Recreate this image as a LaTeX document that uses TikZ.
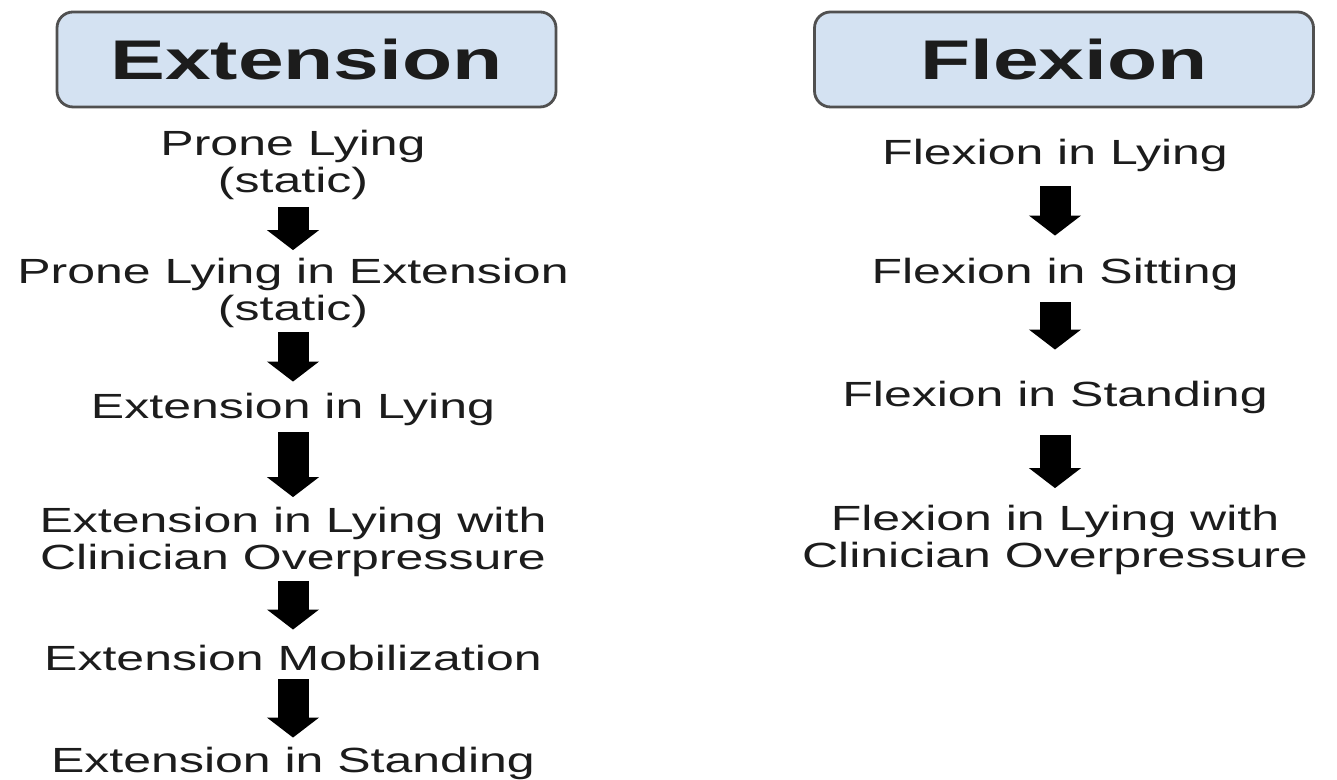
\documentclass[tikz,border=0pt]{standalone}
\usepackage{fontspec}
\setmainfont{Liberation Sans}
\newfontfamily\stagefont[FakeStretch=1.43]{Liberation Sans}
\newfontfamily\headfont[FakeStretch=1.47]{Liberation Sans}
\usetikzlibrary{arrows.meta}

\definecolor{headblue}{RGB}{212,226,242}
\definecolor{headrim}{RGB}{80,80,80}
\definecolor{inkgray}{RGB}{28,28,28}

\tikzset{
    headbox/.style={draw=headrim,line width=1.6pt,fill=headblue,
        rounded corners=0.32cm,minimum width=9.98cm,minimum height=1.9cm,
        text=inkgray,font=\headfont\bfseries\fontsize{31.8}{36}\selectfont},
    stage/.style={align=center,inner sep=1pt,text=inkgray,
        font=\stagefont\fontsize{19.9}{21}\selectfont},
    blockarrow/.style={line width=0.62cm,
        -{Triangle[width=1.02cm,length=0.4cm]},
        shorten <=0.1cm,shorten >=0.1cm}
}

\begin{document}
\begin{tikzpicture}[x=1cm,y=1cm,line cap=butt,line join=miter]
        \useasboundingbox (0,0) rectangle (26.74,15.6);

        \node[headbox] (ext) at (6.13,14.41) {Extension};
        \node[headbox] (flx) at (21.28,14.41) {Flexion};

        % extension column
        \node[stage] (e1) at (5.86,12.30) {Prone Lying\\(static)};
        \node[stage] (e2) at (5.86,9.74) {Prone Lying in Extension\\(static)};
        \node[stage] (e3) at (5.86,7.42) {Extension in Lying};
        \node[stage] (e4) at (5.86,4.76) {Extension in Lying with\\Clinician Overpressure};
        \node[stage] (e5) at (5.86,2.44) {Extension Mobilization};
        \node[stage] (e6) at (5.86,0.34) {Extension in Standing};

        \draw[blockarrow,shorten >=0.12cm] (e1) -- (e2);
        \draw[blockarrow,shorten <=0.04cm,shorten >=0.18cm] (e2) -- (e3);
        \draw[blockarrow,shorten >=0.16cm] (e3) -- (e4);
        \draw[blockarrow,shorten <=0.04cm,shorten >=0.27cm] (e4) -- (e5);
        \draw[blockarrow,shorten <=0.13cm,shorten >=0.14cm] (e5) -- (e6);

        % flexion column
        \node[stage] (f1) at (21.10,12.50) {Flexion in Lying};
        \node[stage] (f2) at (21.10,10.12) {Flexion in Sitting};
        \node[stage] (f3) at (21.10,7.66) {Flexion in Standing};
        \node[stage] (f4) at (21.10,4.80) {Flexion in Lying with\\Clinician Overpressure};

        \draw[blockarrow,shorten <=0.26cm,shorten >=0.4cm] (f1) -- (f2);
        \draw[blockarrow,shorten <=0.2cm,shorten >=0.58cm] (f2) -- (f3);
        \draw[blockarrow,shorten <=0.4cm,shorten >=0.3cm] (f3) -- (f4);
    \end{tikzpicture}
\end{document}
